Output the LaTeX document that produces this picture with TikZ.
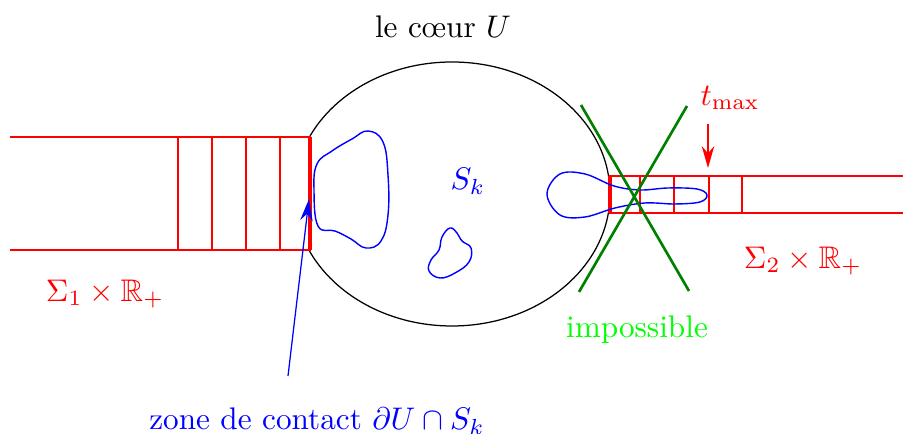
\documentclass[tikz,border=0pt]{standalone}
\usepackage{amssymb}
\usetikzlibrary{arrows.meta}
\begin{document}
\begin{tikzpicture}[x=0.32pt,y=-0.32pt,
  redline/.style={draw=red,line width=0.9pt},
  redend/.style={draw=red,line width=1.2pt},
  blueline/.style={draw=blue,line width=0.45pt},
  greenline/.style={draw={rgb,255:red,0;green,128;blue,0},line width=0.85pt},
  lbl/.style={inner sep=0pt,font=\fontsize{10}{12}\selectfont}]
\useasboundingbox (0,0) rectangle (903,434);
% coeur
\draw[line width=0.4pt] (452,194) ellipse [x radius=158, y radius=132];
% left cylinder (hides the part of the coeur behind it)
\fill[white] (10,137) rectangle (310,250);
\draw[redline] (10,137) -- (310,137) -- (310,250) -- (10,250);
\draw[redend] (310,137) -- (310,250);
\foreach \x in {178,212,246,280} \draw[redline] (\x,137) -- (\x,250);
% right cylinder
\draw[redline] (903,176) -- (610,176) -- (610,213) -- (903,213);
\draw[redend] (610,176) -- (610,213);
\foreach \x in {640,674,709,742} \draw[redline] (\x,176) -- (\x,213);
% blobs
\draw[blueline] plot[smooth cycle,tension=0.7] coordinates {(314,190) (317,164) (332,151) (352,139) (368,131) (383,142) (388,175) (388,215) (381,241) (366,248) (351,239) (335,231) (318,226)};
\draw[blueline] plot[smooth cycle,tension=0.7] coordinates {(450,228) (457,233) (462,241) (471,248) (469,262) (455,273) (440,278) (429,271) (431,260) (439,250) (442,237)};
\draw[blueline] plot[smooth cycle,tension=0.6] coordinates {(707,195) (697,189) (668,188) (640,190) (614,186) (585,174) (560,174) (547,194) (560,215) (585,217) (615,208) (645,203) (675,204) (700,202)};
% cross
\draw[greenline] (581,105) -- (689,291);
\draw[greenline] (687,106) -- (579,292);
% labels
\node[lbl] (coeur) at (443,27) {le c\oe ur $U$};
\node[lbl,text=blue] (sk) at (468,181) {$S_k$};
\node[lbl,text=red] (sig1) at (105,294) {$\Sigma_1\times\mathbb{R}_+$};
\node[lbl,text=red] (sig2) at (803,261) {$\Sigma_2\times\mathbb{R}_+$};
\node[lbl,text={rgb,255:red,0;green,255;blue,0}] (imp) at (637,330) {impossible};
\node[lbl,text=red] (tmax) at (730,98) {$t_{\max}$};
\node[lbl,text=blue] (zone) at (317,421) {zone de contact $\partial U\cap S_k$};
% arrows
\coordinate (a1) at (288,376);
\coordinate (a2) at (309,199);
\draw[blue,line width=0.4pt,-{Stealth[length=7pt,width=4pt]}] (a1) -- (a2);
\coordinate (t1) at (708,124);
\coordinate (t2) at (708,168);
\draw[red,line width=0.4pt,-{Stealth[length=7pt,width=4pt]}] (t1) -- (t2);
\end{tikzpicture}
\end{document}
